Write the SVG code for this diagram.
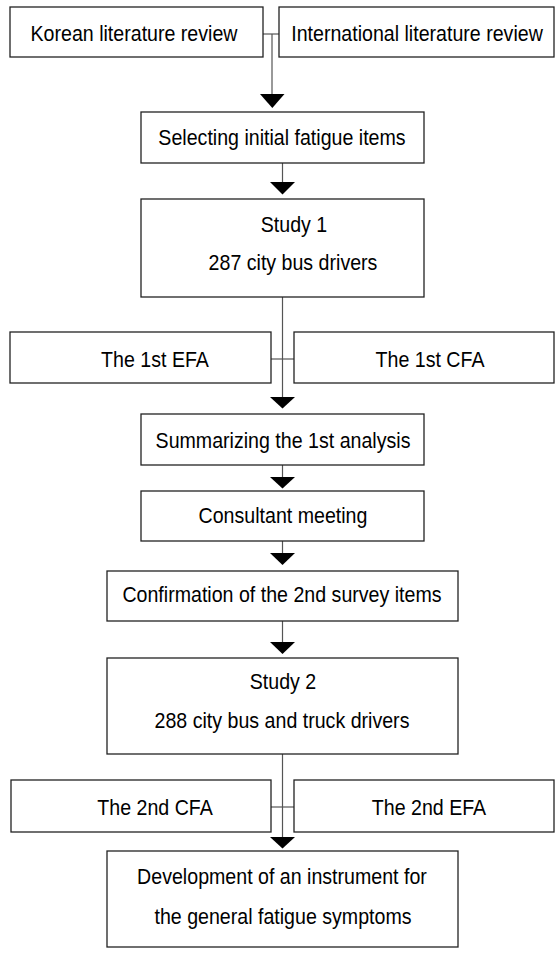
<svg xmlns="http://www.w3.org/2000/svg" width="556" height="955" viewBox="0 0 556 955">
<style>
.box rect{fill:#fff;stroke:#222;stroke-width:1.3}
text{font-family:"Liberation Sans",Arial,sans-serif;font-size:19.6px;fill:#000;text-anchor:middle}
.con line{stroke:#555;stroke-width:1.2}
.con polygon{fill:#000}
</style>
<rect width="556" height="955" fill="#fff"/>
<g class="con" id="connectors">
<line x1="263" y1="34" x2="279" y2="34"/>
<line x1="272" y1="34" x2="272" y2="95"/>
<polygon points="260,94 284.5,94 272.3,108"/>
<line x1="282.5" y1="163" x2="282.5" y2="183"/>
<polygon points="270,182 295,182 282.5,194.5"/>
<line x1="282.5" y1="297" x2="282.5" y2="398"/>
<line x1="271" y1="359" x2="294" y2="359"/>
<polygon points="270,397 295,397 282.5,408.5"/>
<line x1="282.5" y1="465" x2="282.5" y2="478"/>
<polygon points="270,477 295,477 282.5,488.5"/>
<line x1="282.5" y1="541" x2="282.5" y2="554"/>
<polygon points="270,553 295,553 282.5,565"/>
<line x1="282.5" y1="621" x2="282.5" y2="643"/>
<polygon points="270,642 295,642 282.5,654"/>
<line x1="282.5" y1="754" x2="282.5" y2="838"/>
<line x1="271" y1="807" x2="294" y2="807"/>
<polygon points="270,837 295,837 282.5,848.5"/>
</g>
<g class="box" id="korean"><rect x="10" y="7" width="253" height="50"/><text transform="translate(134 40.5) scale(1 1.17)">Korean literature review</text></g>
<g class="box" id="international"><rect x="279" y="7" width="275" height="50"/><text transform="translate(417 40.5) scale(1 1.17)">International literature review</text></g>
<g class="box" id="selecting"><rect x="141" y="112" width="283" height="51"/><text transform="translate(282 145) scale(1 1.17)">Selecting initial fatigue items</text></g>
<g class="box" id="study1"><rect x="141" y="199" width="283" height="98"/><text transform="translate(294 232) scale(1 1.17)">Study 1</text><text transform="translate(293 270) scale(1 1.17)">287 city bus drivers</text></g>
<g class="box" id="efa1"><rect x="10" y="332" width="261" height="51"/><text transform="translate(155 367) scale(1 1.17)">The 1st EFA</text></g>
<g class="box" id="cfa1"><rect x="294" y="332" width="260" height="51"/><text transform="translate(430 367) scale(1 1.17)">The 1st CFA</text></g>
<g class="box" id="summarizing"><rect x="141" y="414" width="283" height="51"/><text transform="translate(283 447.5) scale(1 1.17)">Summarizing the 1st analysis</text></g>
<g class="box" id="consultant"><rect x="141" y="491" width="283" height="50"/><text transform="translate(283 522.5) scale(1 1.17)">Consultant meeting</text></g>
<g class="box" id="confirmation"><rect x="107" y="571" width="351" height="50"/><text transform="translate(282 601.5) scale(1 1.17)">Confirmation of the 2nd survey items</text></g>
<g class="box" id="study2"><rect x="107" y="658" width="351" height="96"/><text transform="translate(283 689) scale(1 1.17)">Study 2</text><text transform="translate(282 728) scale(1 1.17)">288 city bus and truck drivers</text></g>
<g class="box" id="cfa2"><rect x="11" y="780" width="260" height="52"/><text transform="translate(155 815) scale(1 1.17)">The 2nd CFA</text></g>
<g class="box" id="efa2"><rect x="294" y="780" width="260" height="52"/><text transform="translate(429 815) scale(1 1.17)">The 2nd EFA</text></g>
<g class="box" id="development"><rect x="107" y="851" width="351" height="96"/><text transform="translate(282 884) scale(1 1.17)">Development of an instrument for</text><text transform="translate(283 924) scale(1 1.17)">the general fatigue symptoms</text></g>
</svg>
